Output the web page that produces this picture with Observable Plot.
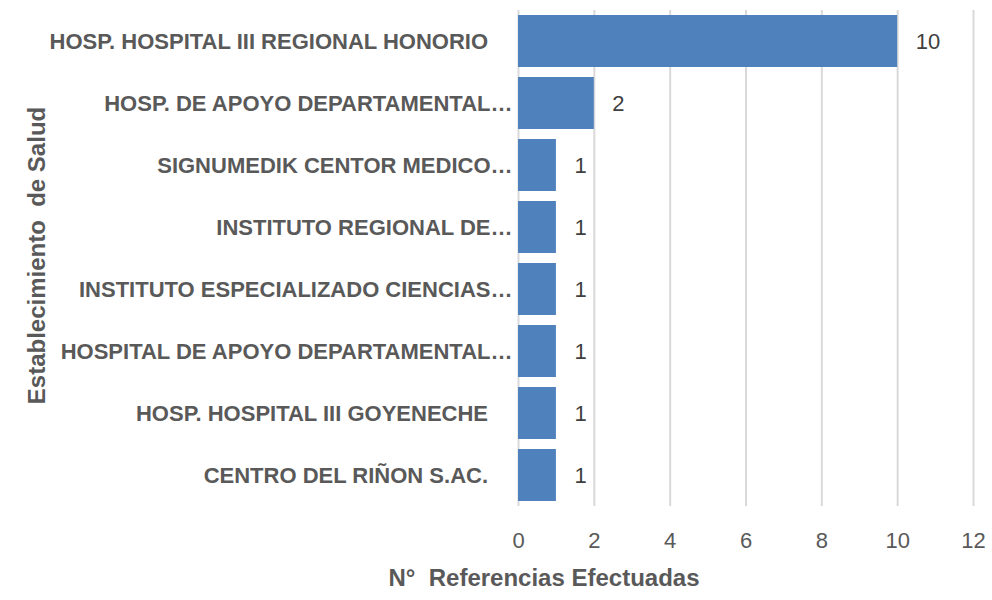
<!DOCTYPE html>
<html>
<head>
<meta charset="utf-8">
<script src="https://cdn.jsdelivr.net/npm/d3@7"></script>
<script src="https://cdn.jsdelivr.net/npm/@observablehq/plot@0.6"></script>
<style>
  html, body { margin: 0; padding: 0; background: #ffffff; }
  #chart svg { display: block; }
</style>
</head>
<body>
<div id="chart"></div>
<script>
const categories = [
  "HOSP. HOSPITAL III REGIONAL HONORIO\u00a0\u00a0\u00a0\u00a0",
  "HOSP. DE APOYO DEPARTAMENTAL\u2026",
  "SIGNUMEDIK CENTOR MEDICO\u2026",
  "INSTITUTO REGIONAL DE\u2026",
  "INSTITUTO ESPECIALIZADO CIENCIAS\u2026",
  "HOSPITAL DE APOYO DEPARTAMENTAL\u2026",
  "HOSP. HOSPITAL III GOYENECHE\u00a0\u00a0\u00a0\u00a0",
  "CENTRO DEL RIÑON S.AC.\u00a0\u00a0\u00a0\u00a0"
];
const values = [10, 2, 1, 1, 1, 1, 1, 1];
const xTicks = [0, 2, 4, 6, 8, 10, 12];
const xTitle = "N°  Referencias Efectuadas";
const yTitle = "Establecimiento  de Salud";

const data = categories.map((c, i) => ({name: c, value: values[i]}));
const FONT = "'Liberation Sans', Arial, sans-serif";

const chart = Plot.plot({
  width: 992,
  height: 600,
  marginLeft: 518,
  marginRight: 19,
  marginTop: 10,
  marginBottom: 94,
  style: {fontFamily: FONT, color: "#595959", background: "#ffffff"},
  x: {domain: [0, 12], ticks: xTicks},
  y: {domain: categories, padding: 0},
  marks: [
    Plot.gridX(xTicks, {stroke: "#d9d9d9", strokeOpacity: 1, strokeWidth: 2}),
    Plot.barX(data, {x: "value", y: "name", fill: "#4f81bd", insetTop: 5, insetBottom: 5}),
    Plot.text(data, {x: "value", y: "name", text: d => String(d.value), textAnchor: "start", dx: 18, fontSize: 22, fill: "#404040"}),
    Plot.axisX({ticks: xTicks, tickSize: 0, tickPadding: 26, fontSize: 22, fill: "#595959", label: null}),
    Plot.axisY({tickSize: 0, tickPadding: 6, fontSize: 22, fontWeight: "bold", fill: "#595959", label: null}),
    Plot.text([xTitle], {frameAnchor: "bottom", text: d => d, textAnchor: "middle", dx: -202, dy: 79, fontSize: 24, fontWeight: "bold", fill: "#595959"}),
    Plot.text([yTitle], {frameAnchor: "left", text: d => d, textAnchor: "middle", dx: -481, dy: -3, rotate: -90, fontSize: 24, fontWeight: "bold", fill: "#595959"})
  ]
});
document.getElementById("chart").appendChild(chart);
</script>
</body>
</html>
